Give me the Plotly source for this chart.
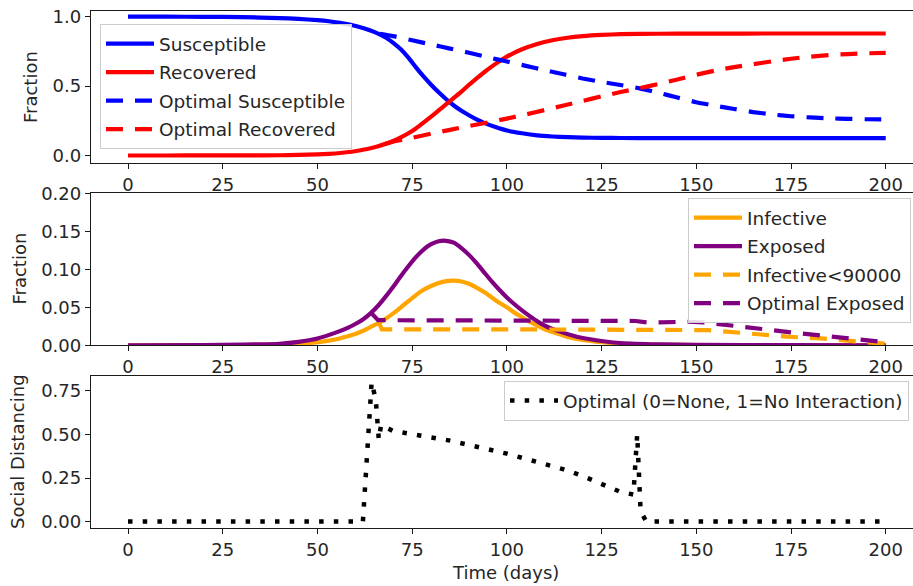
import plotly.graph_objects as go

# ---------------- data ----------------
# Top panel: Susceptible / Recovered (no control)
t_sr = [0, 10, 20, 30, 40, 45, 50, 53, 56, 59, 62, 64, 66, 68, 70, 72, 74, 76, 78, 80, 82,
        84, 86, 88, 90, 92, 94, 97, 100, 104, 108, 112, 116, 120, 125, 130, 140, 150, 175, 200]
susceptible = [1.0, 1.0, 0.999, 0.997, 0.99, 0.984, 0.975, 0.967, 0.955, 0.94, 0.918, 0.90,
               0.878, 0.85, 0.812, 0.765, 0.705, 0.635, 0.57, 0.51, 0.455, 0.405, 0.36,
               0.322, 0.29, 0.26, 0.235, 0.205, 0.18, 0.16, 0.145, 0.137, 0.132, 0.129,
               0.127, 0.126, 0.125, 0.125, 0.125, 0.125]
recovered = [0.0, 0.0, 0.0005, 0.001, 0.002, 0.004, 0.008, 0.012, 0.018, 0.027, 0.041, 0.052,
             0.066, 0.084, 0.105, 0.13, 0.16, 0.195, 0.237, 0.28, 0.325, 0.37, 0.415, 0.46,
             0.51, 0.555, 0.6, 0.66, 0.712, 0.765, 0.803, 0.83, 0.848, 0.86, 0.869, 0.874,
             0.877, 0.878, 0.879, 0.879]

# Top panel: optimal-control curves
t_os = [66.5, 70, 75, 80, 85, 90, 95, 100, 105, 110, 115, 120, 125, 130, 135, 140, 145,
        150, 155, 160, 165, 170, 175, 180, 185, 190, 195, 200]
opt_susceptible = [0.876, 0.86, 0.83, 0.80, 0.77, 0.74, 0.708, 0.677, 0.646, 0.615, 0.585,
                   0.555, 0.53, 0.508, 0.484, 0.452, 0.418, 0.384, 0.358, 0.335, 0.313,
                   0.296, 0.283, 0.274, 0.268, 0.264, 0.261, 0.26]
t_or = [68, 70, 75, 80, 85, 90, 95, 100, 105, 110, 115, 120, 125, 130, 135, 140, 145, 150,
        155, 160, 165, 170, 175, 180, 185, 190, 195, 200]
opt_recovered = [0.084, 0.1, 0.128, 0.157, 0.185, 0.212, 0.238, 0.266, 0.296, 0.328, 0.36,
                 0.393, 0.426, 0.457, 0.485, 0.515, 0.548, 0.582, 0.612, 0.637, 0.658,
                 0.678, 0.697, 0.712, 0.723, 0.731, 0.736, 0.74]

# Middle panel: Exposed / Infective (no control)
t_e = [0, 20, 30, 40, 45, 50, 55, 58, 60, 62, 64, 66, 68, 70, 72, 74, 76, 78, 80, 82, 84,
       86, 88, 90, 92, 94, 96, 98, 100, 102, 104, 107, 110, 114, 118, 122, 126, 130, 140,
       150, 175, 200]
exposed = [0.0, 0.0003, 0.0008, 0.002, 0.0045, 0.009, 0.017, 0.023, 0.028, 0.034, 0.042,
           0.052, 0.064, 0.077, 0.091, 0.104, 0.116, 0.126, 0.133, 0.137, 0.1375, 0.135,
           0.128, 0.119, 0.108, 0.096, 0.084, 0.073, 0.063, 0.054, 0.046, 0.035, 0.026,
           0.018, 0.012, 0.008, 0.005, 0.003, 0.0012, 0.0006, 0.0001, 0.0]
t_i = [0, 20, 30, 40, 45, 50, 55, 58, 60, 62, 64, 66, 68, 70, 72, 74, 76, 78, 80, 82, 84,
       86, 88, 90, 92, 94, 96, 98, 100, 102, 104, 106, 108, 110, 113, 116, 120, 125, 130,
       140, 150, 175, 200]
infective = [0.0, 0.0001, 0.0004, 0.001, 0.002, 0.004, 0.008, 0.012, 0.015, 0.019, 0.024,
             0.029, 0.035, 0.042, 0.05, 0.058, 0.066, 0.073, 0.078, 0.082, 0.0845, 0.085,
             0.084, 0.081, 0.076, 0.07, 0.063, 0.056, 0.05, 0.043, 0.037, 0.031, 0.026,
             0.021, 0.016, 0.011, 0.007, 0.004, 0.002, 0.0008, 0.0003, 0.0001, 0.0]

# Middle panel: optimal-control curves
t_oi = [66.3, 67, 100, 150, 153, 158, 166, 174, 183, 190, 198, 200]
opt_infective = [0.029, 0.021, 0.021, 0.021, 0.020, 0.018, 0.0145, 0.0113, 0.009, 0.006,
                 0.003, 0.002]
t_oe = [64.3, 66, 70, 100, 130, 134, 137, 142, 148, 152, 156, 160, 165, 170, 175, 180, 185,
        190, 195, 200]
opt_exposed = [0.042, 0.033, 0.033, 0.033, 0.0325, 0.032, 0.030, 0.031, 0.031, 0.030, 0.028,
               0.026, 0.0235, 0.02, 0.017, 0.0145, 0.012, 0.0095, 0.0065, 0.004]

# Bottom panel: optimal social distancing
t_u = [0, 62.0, 64.3, 65.4, 66.2, 66.8, 70, 75, 80, 85, 90, 95, 100, 105, 110, 115, 120,
       125, 130, 133.4, 134.4, 135.3, 136.8, 200]
u_opt = [0.0, 0.0, 0.80, 0.70, 0.47, 0.555, 0.52, 0.502, 0.482, 0.465, 0.44, 0.416, 0.39,
         0.36, 0.332, 0.30, 0.262, 0.218, 0.17, 0.155, 0.50, 0.06, 0.0, 0.0]

x_ticks = [0, 25, 50, 75, 100, 125, 150, 175, 200]

# ---------------- layout constants ----------------
W, H = 913, 586
ML, MR, MT, MB = 91, 0, 11, 58
PW = W - ML - MR
PH = H - MT - MB


def ydom(top_px, bot_px):
    return [(H - MB - bot_px) / PH, (H - MB - top_px) / PH]


def px_x(px):
    return (px - ML) / PW


def px_y(py):
    return (H - MB - py) / PH


FONT = "DejaVu Sans"
TXT = "#262626"
AX = "#1a1a1a"
DASH = "17px,12px"
LW = 4.2
SPL = dict(shape="spline", smoothing=0.6)

fig = go.Figure()

# top
fig.add_trace(go.Scatter(x=t_sr, y=susceptible, name="Susceptible", mode="lines",
                         line=dict(color="#0000ff", width=LW, **SPL),
                         xaxis="x", yaxis="y", legend="legend", legendgroup="a"))
fig.add_trace(go.Scatter(x=t_sr, y=recovered, name="Recovered", mode="lines",
                         line=dict(color="#ff0000", width=LW, **SPL),
                         xaxis="x", yaxis="y", legend="legend", legendgroup="b"))
fig.add_trace(go.Scatter(x=t_os, y=opt_susceptible, name="Optimal Susceptible", mode="lines",
                         line=dict(color="#0000ff", width=LW, dash=DASH, **SPL),
                         xaxis="x", yaxis="y", legend="legend", legendgroup="c"))
fig.add_trace(go.Scatter(x=t_or, y=opt_recovered, name="Optimal Recovered", mode="lines",
                         line=dict(color="#ff0000", width=LW, dash=DASH, **SPL),
                         xaxis="x", yaxis="y", legend="legend", legendgroup="d"))

# middle
fig.add_trace(go.Scatter(x=t_i, y=infective, name="Infective", mode="lines",
                         line=dict(color="#ffa500", width=LW, **SPL),
                         xaxis="x2", yaxis="y2", legend="legend2", legendgroup="e"))
fig.add_trace(go.Scatter(x=t_e, y=exposed, name="Exposed", mode="lines",
                         line=dict(color="#800080", width=LW, **SPL),
                         xaxis="x2", yaxis="y2", legend="legend2", legendgroup="f"))
fig.add_trace(go.Scatter(x=t_oi, y=opt_infective, name="Infective<90000", mode="lines",
                         line=dict(color="#ffa500", width=LW, dash=DASH),
                         xaxis="x2", yaxis="y2", legend="legend2", legendgroup="g"))
fig.add_trace(go.Scatter(x=t_oe, y=opt_exposed, name="Optimal Exposed", mode="lines",
                         line=dict(color="#800080", width=LW, dash=DASH),
                         xaxis="x2", yaxis="y2", legend="legend2", legendgroup="h"))

# bottom
fig.add_trace(go.Scatter(x=t_u, y=u_opt, name="Optimal (0=None, 1=No Interaction)", mode="lines",
                         line=dict(color="#000000", width=4.5, dash="4.5px,10.2px"),
                         xaxis="x3", yaxis="y3", legend="legend3"))

axis_common = dict(showline=True, linecolor=AX, linewidth=1.3, ticks="outside", ticklen=5,
                   tickwidth=1.2, tickcolor=AX, showgrid=False, zeroline=False,
                   tickfont=dict(family=FONT, size=18, color=TXT))
xcommon = dict(axis_common, range=[-9.77, 207.2], tickvals=x_ticks, mirror=True, domain=[0, 1])

legend_common = dict(bordercolor="#cccccc", borderwidth=1, bgcolor="rgba(255,255,255,0.85)",
                     font=dict(family=FONT, size=18.5, color=TXT), tracegroupgap=1.5,
                     itemwidth=48, orientation="v", xanchor="left", yanchor="top")

fig.update_layout(
    width=W, height=H,
    margin=dict(l=ML, r=MR, t=MT, b=MB, pad=0),
    plot_bgcolor="white", paper_bgcolor="white",
    font=dict(family=FONT, size=18, color=TXT),
    xaxis=dict(xcommon, anchor="y"),
    xaxis2=dict(xcommon, anchor="y2"),
    xaxis3=dict(xcommon, anchor="y3"),
    yaxis=dict(axis_common, anchor="x", domain=ydom(11, 163), range=[-0.054, 1.041],
               tickvals=[0, 0.5, 1.0], tickformat=".1f"),
    yaxis2=dict(axis_common, anchor="x2", domain=ydom(193.3, 345.3), range=[0, 0.2],
                tickvals=[0, 0.05, 0.1, 0.15, 0.2], tickformat=".2f"),
    yaxis3=dict(axis_common, anchor="x3", domain=ydom(376, 528), range=[-0.037, 0.836],
                tickvals=[0, 0.25, 0.5, 0.75], tickformat=".2f"),
    legend=dict(legend_common, x=px_x(100), y=px_y(24)),
    legend2=dict(legend_common, x=px_x(688), y=px_y(198)),
    legend3=dict(legend_common, x=px_x(504), y=px_y(381)),
    showlegend=True,
)

annotations = [
    dict(text="Fraction", x=px_x(31), y=px_y(87), textangle=-90),
    dict(text="Fraction", x=px_x(18.5), y=px_y(269), textangle=-90),
    dict(text="Social Distancing", x=px_x(17), y=px_y(452), textangle=-90),
    dict(text="Time (days)", x=px_x(505.5), y=px_y(572), textangle=0),
]
for a in annotations:
    fig.add_annotation(xref="paper", yref="paper", showarrow=False, xanchor="center",
                       yanchor="middle", font=dict(family=FONT, size=18, color=TXT), **a)

fig.write_html("out.html")
